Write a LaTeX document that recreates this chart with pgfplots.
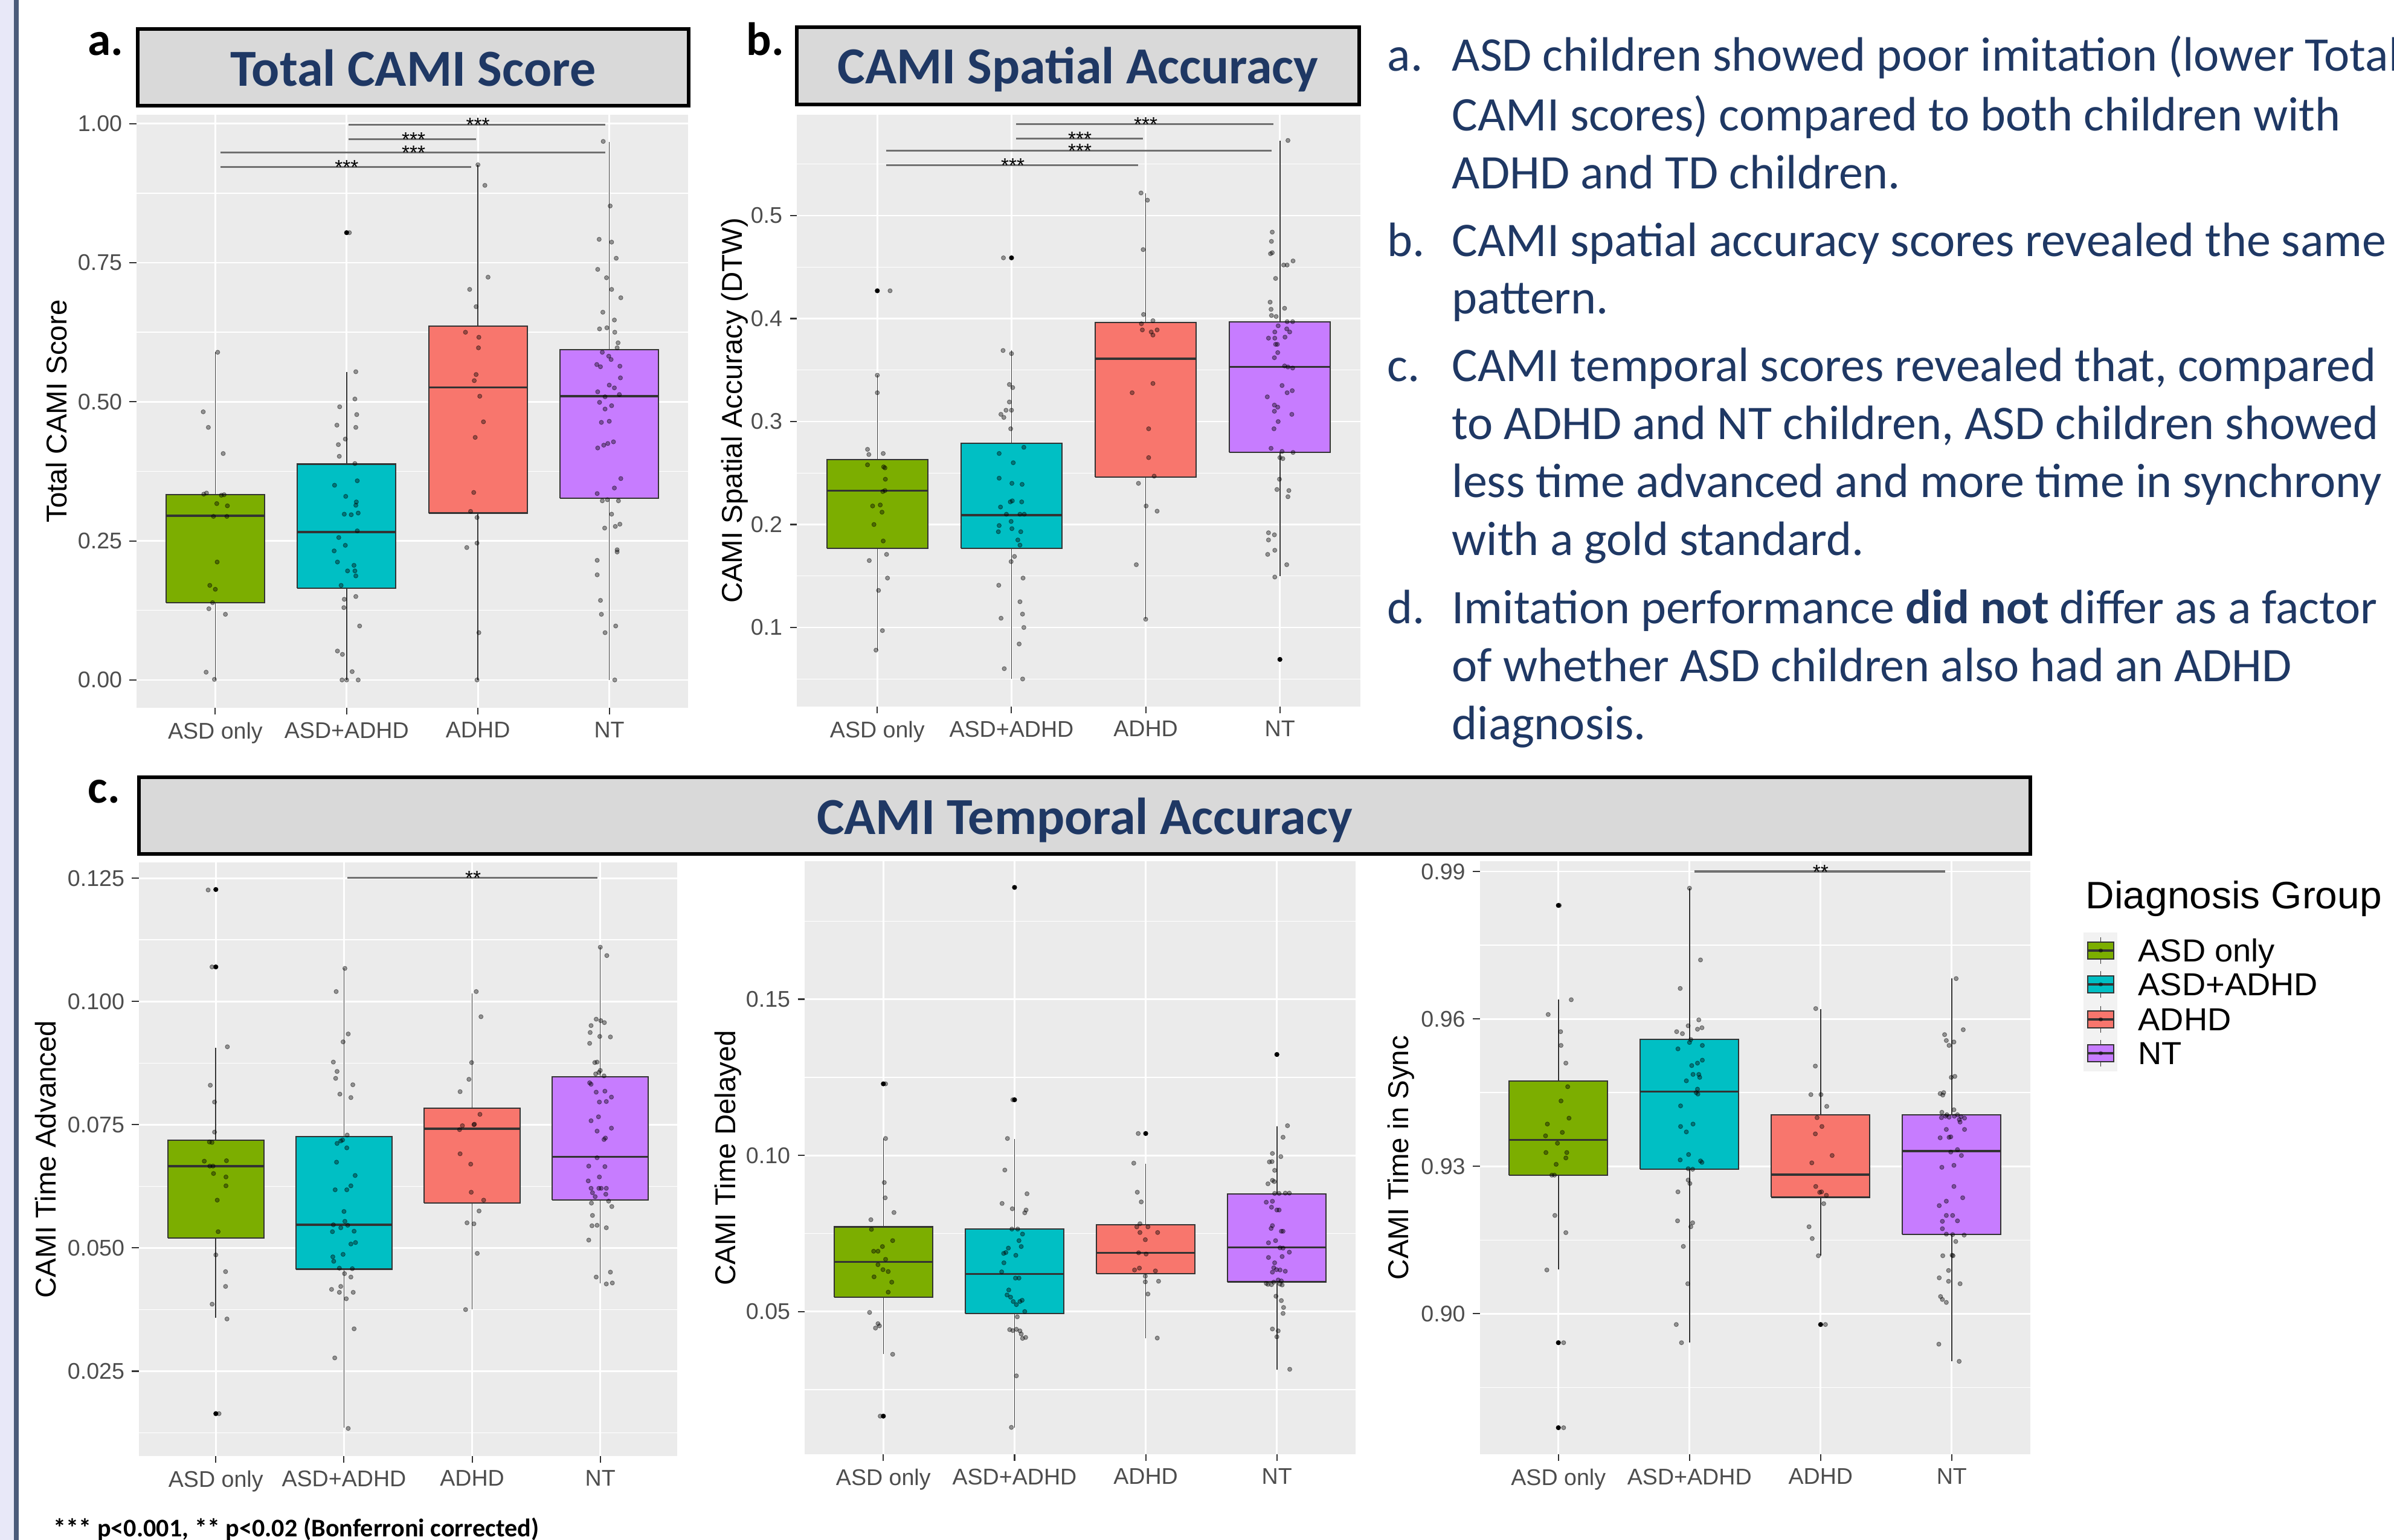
\documentclass[border=0pt]{standalone}
\usepackage{pgfplots}
\pgfplotsset{compat=1.18}
\usepackage{pgfplotstable}
\usepackage{fontspec}
\setmainfont{Liberation Sans}
\newfontfamily\carl{Carlito}
\definecolor{ggpanel}{HTML}{EBEBEB}
\definecolor{ggtext}{HTML}{4D4D4D}
\definecolor{ggtick}{HTML}{333333}
\definecolor{boxline}{HTML}{333333}
\definecolor{cASD}{HTML}{7CAE00}
\definecolor{cCOM}{HTML}{00BFC4}
\definecolor{cADHD}{HTML}{F8766D}
\definecolor{cNT}{HTML}{C77CFF}
\definecolor{navy}{HTML}{1F3864}
\definecolor{titlegray}{HTML}{D9D9D9}
\definecolor{lav}{HTML}{E8E8F8}
\definecolor{slate}{HTML}{4B5B7A}
\definecolor{keybg}{HTML}{F2F2F2}
\definecolor{sigcol}{HTML}{707070}

\pgfplotstableread{
x y
1.018 0.589
0.908 0.482
0.947 0.454
1.060 0.407
0.912 0.334
0.933 0.336
1.046 0.332
1.067 0.333
1.011 0.317
1.092 0.313
0.986 0.294
1.088 0.294
1.014 0.212
0.958 0.170
1.000 0.163
0.979 0.139
0.951 0.128
1.077 0.118
0.930 0.014
0.993 0.001
2.021 0.804
2.070 0.554
2.063 0.505
1.947 0.491
2.077 0.477
1.926 0.458
2.070 0.454
1.990 0.433
1.937 0.423
1.944 0.402
2.063 0.389
1.908 0.350
2.081 0.358
1.993 0.330
2.074 0.320
2.070 0.314
1.982 0.298
2.035 0.297
2.088 0.300
2.081 0.268
1.940 0.256
1.905 0.232
1.990 0.242
1.930 0.212
2.056 0.206
2.007 0.196
2.063 0.196
2.070 0.187
1.958 0.170
1.982 0.145
2.070 0.150
1.979 0.130
2.099 0.097
1.930 0.052
1.968 0.046
2.042 0.015
1.965 0.000
2.000 0.000
2.088 0.000
3.000 0.926
3.053 0.889
3.077 0.724
2.937 0.702
2.986 0.671
2.905 0.625
3.007 0.616
3.004 0.597
2.986 0.549
2.972 0.538
3.014 0.510
3.042 0.464
2.979 0.436
2.968 0.337
2.944 0.303
2.993 0.292
2.993 0.246
2.915 0.238
3.007 0.085
2.993 0.000
3.954 0.968
4.007 0.852
3.923 0.792
4.018 0.787
4.053 0.758
3.912 0.738
3.979 0.723
4.018 0.702
4.088 0.687
3.951 0.661
4.039 0.647
3.926 0.631
3.982 0.633
4.042 0.625
4.067 0.606
4.060 0.597
3.905 0.567
3.933 0.563
3.947 0.589
3.996 0.582
4.014 0.576
4.081 0.564
4.085 0.543
4.000 0.530
3.912 0.518
4.039 0.525
4.077 0.513
3.968 0.509
3.926 0.499
4.018 0.493
3.968 0.487
3.940 0.463
4.000 0.465
3.912 0.417
3.958 0.422
3.989 0.425
4.032 0.428
4.088 0.362
4.039 0.345
3.908 0.335
3.947 0.322
3.986 0.324
4.070 0.322
4.018 0.298
4.081 0.280
4.046 0.276
3.965 0.273
4.060 0.234
4.060 0.230
3.908 0.215
3.908 0.189
3.933 0.143
3.940 0.118
3.968 0.085
4.049 0.097
4.042 0.000
}\tabA

\pgfplotstableread{
x y
1.095 0.427
1.000 0.345
1.000 0.328
0.927 0.273
0.937 0.268
1.044 0.269
0.927 0.258
1.047 0.256
1.057 0.255
1.060 0.244
1.057 0.233
1.041 0.232
0.965 0.218
1.022 0.219
1.035 0.212
0.975 0.200
1.044 0.184
0.940 0.165
1.069 0.171
1.076 0.148
1.009 0.136
1.038 0.097
0.990 0.078
1.940 0.459
1.937 0.369
2.000 0.366
1.984 0.336
2.009 0.333
1.984 0.319
1.959 0.311
2.000 0.311
1.921 0.307
1.943 0.304
1.994 0.293
2.092 0.275
1.908 0.269
2.013 0.260
1.908 0.245
2.003 0.240
2.079 0.239
1.918 0.217
1.991 0.222
2.006 0.223
2.076 0.222
1.962 0.210
2.063 0.210
2.095 0.210
1.997 0.203
1.908 0.199
2.069 0.193
1.902 0.193
2.003 0.196
2.047 0.185
2.063 0.180
2.022 0.169
1.997 0.164
1.905 0.141
2.086 0.148
2.063 0.125
2.082 0.113
1.922 0.109
2.092 0.100
2.057 0.084
1.946 0.060
2.083 0.050
2.965 0.522
3.013 0.515
2.981 0.467
2.984 0.404
3.054 0.398
2.968 0.395
2.975 0.389
3.085 0.389
3.041 0.387
3.054 0.384
3.054 0.337
2.899 0.328
3.022 0.293
3.022 0.265
3.063 0.247
2.946 0.240
3.003 0.218
3.085 0.213
2.930 0.161
3.000 0.108
4.060 0.573
3.943 0.484
3.937 0.475
3.943 0.464
3.930 0.463
4.098 0.456
4.028 0.452
4.054 0.452
3.968 0.439
3.927 0.416
3.934 0.409
4.035 0.410
3.937 0.403
3.972 0.402
4.054 0.397
4.095 0.397
3.987 0.393
4.051 0.390
3.962 0.387
4.073 0.387
3.915 0.381
3.962 0.381
4.038 0.382
3.968 0.375
3.981 0.375
3.984 0.367
3.959 0.362
4.035 0.354
4.060 0.353
4.095 0.352
4.016 0.335
4.092 0.330
4.054 0.328
3.906 0.324
3.959 0.316
3.984 0.314
3.959 0.310
4.089 0.307
3.987 0.300
3.956 0.293
3.934 0.274
4.016 0.271
4.098 0.270
4.000 0.265
4.022 0.264
3.997 0.244
3.978 0.234
4.067 0.233
4.060 0.227
3.915 0.192
3.959 0.190
3.915 0.185
3.962 0.175
3.909 0.171
4.051 0.161
3.962 0.149
}\tabB

\pgfplotstableread{
x y
0.940 0.1226
0.970 0.1070
1.090 0.0908
0.957 0.0830
0.990 0.0796
0.990 0.0735
0.950 0.0715
0.970 0.0714
0.910 0.0676
1.083 0.0677
0.953 0.0666
0.978 0.0666
0.982 0.0651
1.079 0.0644
1.079 0.0626
1.011 0.0597
1.018 0.0533
1.000 0.0486
1.076 0.0452
1.076 0.0422
0.971 0.0386
1.087 0.0356
1.025 0.0164
2.007 0.1067
1.939 0.1020
2.033 0.0934
1.993 0.0918
1.917 0.0877
1.946 0.0858
1.935 0.0844
2.069 0.0831
1.968 0.0812
2.054 0.0805
2.025 0.0729
1.989 0.0719
1.975 0.0717
1.946 0.0712
2.022 0.0703
1.942 0.0674
2.087 0.0647
2.022 0.0618
1.931 0.0618
2.054 0.0626
2.000 0.0574
2.007 0.0554
1.917 0.0547
2.029 0.0546
1.910 0.0533
1.975 0.0541
2.079 0.0534
2.054 0.0508
2.090 0.0511
1.993 0.0487
1.913 0.0482
1.920 0.0473
1.964 0.0459
2.065 0.0458
2.004 0.0448
2.054 0.0441
1.975 0.0422
1.903 0.0416
1.964 0.0410
2.072 0.0410
2.018 0.0397
2.079 0.0336
1.928 0.0277
2.033 0.0134
3.032 0.1020
3.069 0.0969
2.996 0.0876
2.975 0.0842
2.906 0.0817
3.061 0.0771
3.018 0.0751
2.924 0.0748
3.014 0.0750
2.902 0.0740
2.906 0.0691
2.989 0.0670
2.993 0.0613
3.090 0.0597
3.054 0.0575
2.960 0.0551
3.014 0.0549
3.040 0.0489
2.949 0.0375
4.000 0.1110
4.051 0.1093
3.968 0.0964
4.004 0.0961
4.032 0.0957
3.928 0.0951
3.921 0.0937
3.996 0.0929
4.079 0.0928
3.917 0.0915
3.957 0.0876
3.975 0.0877
4.000 0.0860
3.989 0.0856
3.964 0.0853
4.029 0.0849
3.917 0.0835
3.928 0.0832
3.968 0.0816
4.036 0.0818
3.993 0.0796
4.047 0.0797
4.087 0.0806
3.986 0.0766
3.928 0.0758
3.975 0.0737
4.087 0.0743
4.040 0.0723
4.029 0.0720
3.975 0.0683
3.910 0.0666
4.036 0.0665
3.993 0.0644
3.906 0.0636
3.928 0.0621
4.007 0.0621
4.047 0.0621
3.989 0.0621
3.939 0.0612
3.960 0.0604
4.043 0.0609
3.931 0.0591
4.065 0.0595
4.090 0.0584
3.939 0.0566
3.935 0.0545
3.975 0.0546
4.047 0.0541
3.910 0.0516
4.079 0.0451
3.968 0.0441
4.047 0.0427
4.094 0.0429
}\tabC

\pgfplotstableread{
x y
1.017 0.1229
1.017 0.1054
1.007 0.0913
1.014 0.0864
1.081 0.0817
0.905 0.0794
0.909 0.0763
1.071 0.0727
0.993 0.0708
0.926 0.0693
0.959 0.0693
1.017 0.0667
0.959 0.0650
0.997 0.0634
1.037 0.0628
0.929 0.0611
1.064 0.0594
1.037 0.0562
0.895 0.0497
0.959 0.0461
0.940 0.0447
0.970 0.0454
1.071 0.0363
0.976 0.0165
1.987 0.1178
1.946 0.1054
1.926 0.0953
2.095 0.0877
1.905 0.0846
1.983 0.0829
2.088 0.0825
2.078 0.0816
1.980 0.0764
2.024 0.0764
2.061 0.0748
2.034 0.0727
2.051 0.0708
1.953 0.0703
1.917 0.0686
1.934 0.0689
2.010 0.0680
1.919 0.0656
1.902 0.0627
2.007 0.0607
2.034 0.0607
1.956 0.0569
1.943 0.0553
1.970 0.0546
2.041 0.0532
2.058 0.0536
1.990 0.0532
2.014 0.0522
2.078 0.0500
2.021 0.0483
1.963 0.0442
1.987 0.0439
2.014 0.0443
2.041 0.0438
2.051 0.0428
2.085 0.0417
2.061 0.0414
2.014 0.0294
1.976 0.0129
2.943 0.1070
2.909 0.0975
2.936 0.0882
2.966 0.0851
2.956 0.0781
2.932 0.0771
3.017 0.0771
2.956 0.0753
3.091 0.0753
2.997 0.0730
2.946 0.0688
3.003 0.0684
2.952 0.0639
2.915 0.0633
3.074 0.0630
2.997 0.0613
2.997 0.0595
3.098 0.0597
3.017 0.0556
3.088 0.0415
4.081 0.1095
4.047 0.1058
3.966 0.1006
4.030 0.0996
3.943 0.0979
3.963 0.0980
3.983 0.0952
3.966 0.0920
3.932 0.0909
3.980 0.0916
3.983 0.0878
4.017 0.0878
4.064 0.0879
4.095 0.0879
3.919 0.0850
3.966 0.0853
3.959 0.0834
4.000 0.0825
4.017 0.0825
3.966 0.0775
3.956 0.0766
4.034 0.0757
4.047 0.0757
3.990 0.0727
3.936 0.0720
4.024 0.0704
4.047 0.0703
4.095 0.0690
3.936 0.0673
3.983 0.0656
4.040 0.0676
3.976 0.0640
3.997 0.0634
3.966 0.0626
4.024 0.0633
4.064 0.0629
4.010 0.0601
3.976 0.0594
3.959 0.0586
3.919 0.0590
3.932 0.0587
4.024 0.0588
4.034 0.0598
4.040 0.0585
3.993 0.0549
4.034 0.0535
4.051 0.0513
4.047 0.0494
3.966 0.0444
4.010 0.0438
4.000 0.0419
4.098 0.0315
}\tabD

\pgfplotstableread{
x y
1.007 0.9831
1.098 0.9639
0.922 0.9609
1.017 0.9574
1.020 0.9546
1.057 0.9510
1.071 0.9462
1.020 0.9433
0.916 0.9386
1.081 0.9398
1.030 0.9369
0.902 0.9362
0.993 0.9347
0.905 0.9328
1.064 0.9328
1.057 0.9317
0.983 0.9304
0.950 0.9282
0.970 0.9282
0.973 0.9200
1.057 0.9165
0.912 0.9089
1.040 0.8941
1.040 0.8768
2.000 0.9866
2.084 0.9720
1.929 0.9662
2.071 0.9598
1.902 0.9574
1.946 0.9570
1.990 0.9586
2.061 0.9579
2.095 0.9582
2.000 0.9552
2.010 0.9558
1.912 0.9539
2.098 0.9546
2.098 0.9516
2.061 0.9510
2.017 0.9505
2.027 0.9487
2.071 0.9487
2.078 0.9481
1.976 0.9474
2.061 0.9457
2.051 0.9450
2.064 0.9447
1.932 0.9423
2.027 0.9386
1.932 0.9381
1.976 0.9370
1.993 0.9324
1.929 0.9313
2.084 0.9311
2.095 0.9308
1.990 0.9295
2.024 0.9294
1.990 0.9272
2.003 0.9265
1.912 0.9248
1.909 0.9189
2.024 0.9185
2.010 0.9177
1.953 0.9137
1.987 0.9061
1.899 0.8978
1.939 0.8941
2.963 0.9621
2.960 0.9504
2.926 0.9446
3.003 0.9446
3.047 0.9422
2.973 0.9399
3.010 0.9381
2.960 0.9366
3.088 0.9322
2.933 0.9307
2.963 0.9259
2.993 0.9247
3.007 0.9248
3.044 0.9241
3.024 0.9224
2.912 0.9177
2.936 0.9153
2.983 0.9118
3.037 0.8978
4.034 0.9682
4.088 0.9578
3.946 0.9568
3.959 0.9556
4.017 0.9553
3.980 0.9546
3.997 0.9481
4.024 0.9483
3.912 0.9448
3.939 0.9450
3.932 0.9445
4.017 0.9415
3.925 0.9410
3.963 0.9405
3.953 0.9402
4.044 0.9405
3.922 0.9399
3.980 0.9400
4.020 0.9402
4.071 0.9401
4.098 0.9398
4.058 0.9395
4.064 0.9390
4.098 0.9375
3.959 0.9375
3.912 0.9358
3.980 0.9359
3.993 0.9360
4.044 0.9334
3.993 0.9329
4.074 0.9322
3.925 0.9298
4.017 0.9302
4.017 0.9259
3.959 0.9229
4.084 0.9236
3.905 0.9220
3.959 0.9200
4.007 0.9200
3.929 0.9188
4.044 0.9189
3.929 0.9173
3.959 0.9162
4.007 0.9161
4.095 0.9160
4.031 0.9147
3.932 0.9118
4.003 0.9119
4.010 0.9118
3.976 0.9088
3.905 0.9073
3.976 0.9066
4.064 0.9061
3.915 0.9035
3.929 0.9029
3.959 0.9023
3.902 0.8938
4.057 0.8903
}\tabE

\tikzset{sig/.style={anchor=base, yshift=-1.2mm, font=\fontsize{9.5}{10}\selectfont, inner sep=0pt}}
\pgfplotsset{
  gg/.style={
    scale only axis, clip=false,
    xmin=0.4, xmax=4.6,
    axis background/.style={fill=ggpanel},
    axis line style={draw=none},
    xtick={1,2,3,4},
    xticklabels={ASD only,ASD+ADHD,ADHD,NT},
    xmajorgrids, ymajorgrids, yminorgrids,
    major grid style={draw=white, line width=0.8pt},
    minor grid style={draw=white, line width=0.4pt},
    tick align=outside, tick pos=left,
    major tick length=0.115cm, minor tick length=0pt,
    tick style={draw=ggtick, line width=0.6pt},
    ticklabel style={font=\fontsize{10.7}{12}\selectfont, text=ggtext},
    ylabel style={font=\fontsize{13.5}{15}\selectfont, anchor=base},
  },
  jit/.style={only marks, mark=*, mark size=1.0pt, mark options={draw=black, fill=black, draw opacity=0.45, fill opacity=0.38, line width=0.25pt}},
  outl/.style={only marks, mark=*, mark size=0.95pt, mark options={draw=none, fill=black}},
  sigbar/.style={draw=sigcol, line width=0.9pt, no marks},
  whisk/.style={draw=boxline, line width=0.45pt, no marks},
}
% #1 colour, #2 left, #3 centre, #4 right, #5 lower whisker, #6 lower quartile, #7 median, #8 upper quartile, #9 upper whisker
\newcommand{\ggbox}[9]{%
\addplot[whisk] coordinates {(#3,#5) (#3,#6)};
\addplot[whisk] coordinates {(#3,#8) (#3,#9)};
\addplot[fill=#1, draw=boxline, line width=0.6pt, line join=miter, no marks] coordinates {(#2,#6) (#4,#6) (#4,#8) (#2,#8) (#2,#6)};
\addplot[draw=boxline, line width=1.0pt, no marks] coordinates {(#2,#7) (#4,#7)};
}

\begin{document}
\begin{tikzpicture}
\useasboundingbox (0,0) rectangle (39.63,25.5);
\fill[lav] (0,0) rectangle (0.23,25.5);
\fill[slate] (0.23,0) rectangle (0.31,25.5);

% title boxes
\draw[line width=1.6pt, fill=titlegray] (2.28,23.75) rectangle (11.40,25.02);
\node[anchor=base, text=navy, inner sep=0pt] at (6.84,24.07) {\carl\bfseries\fontsize{24.5}{26}\selectfont Total CAMI Score};
\draw[line width=1.6pt, fill=titlegray] (13.19,23.77) rectangle (22.50,25.05);
\node[anchor=base, text=navy, inner sep=0pt] at (17.845,24.11) {\carl\bfseries\fontsize{24.5}{26}\selectfont CAMI Spatial Accuracy};
\draw[line width=1.6pt, fill=titlegray] (2.30,11.36) rectangle (33.61,12.63);
\node[anchor=base, text=navy, inner sep=0pt] at (17.955,11.68) {\carl\bfseries\fontsize{24.5}{26}\selectfont CAMI Temporal Accuracy};
\node[anchor=base west, inner sep=0pt] at (1.45,24.58) {\carl\bfseries\fontsize{22}{24}\selectfont a.};
\node[anchor=base west, inner sep=0pt] at (12.35,24.58) {\carl\bfseries\fontsize{22}{24}\selectfont b.};
\node[anchor=base west, inner sep=0pt] at (1.45,12.20) {\carl\bfseries\fontsize{22}{24}\selectfont c.};
\node[anchor=base west, inner sep=0pt] at (0.88,0.05) {\carl\bfseries\fontsize{12}{14}\selectfont *** p<0.001, ** p<0.02 (Bonferroni corrected)};

% right text
\begin{scope}[every node/.style={anchor=base west, inner sep=0pt, text=navy, font=\carl\fontsize{22.75}{27}\selectfont}]
\node at (22.96,24.32) {a.};
\node at (24.03,24.32) {ASD children showed poor imitation (lower Total};
\node at (24.03,23.33) {CAMI scores) compared to both children with};
\node at (24.03,22.37) {ADHD and TD children.};
\node at (22.96,21.25) {b.};
\node at (24.03,21.25) {CAMI spatial accuracy scores revealed the same};
\node at (24.03,20.30) {pattern.};
\node at (22.96,19.18) {c.};
\node at (24.03,19.18) {CAMI temporal scores revealed that, compared};
\node at (24.03,18.22) {to ADHD and NT children, ASD children showed};
\node at (24.03,17.26) {less time advanced and more time in synchrony};
\node at (24.03,16.30) {with a gold standard.};
\node at (22.96,15.17) {d.};
\node at (24.03,15.17) {Imitation performance \textbf{did not} differ as a factor};
\node at (24.03,14.21) {of whether ASD children also had an ADHD};
\node at (24.03,13.25) {diagnosis.};
\end{scope}

% panel a
\begin{axis}[gg, at={(2.26cm,13.78cm)}, anchor=south west, width=9.13cm, height=9.82cm,
  ymin=-0.05, ymax=1.016,
  ytick={0,0.25,0.5,0.75,1}, yticklabels={0.00,0.25,0.50,0.75,1.00},
  minor ytick={0.125,0.375,0.625,0.875},
  ylabel={Total CAMI Score}, ylabel style={at={(axis description cs:-0.126,0.5)}}]
\ggbox{cASD}{0.625}{1}{1.375}{0}{0.139}{0.295}{0.333}{0.589}
\ggbox{cCOM}{1.625}{2}{2.375}{0}{0.165}{0.266}{0.388}{0.554}
\ggbox{cADHD}{2.625}{3}{3.375}{0}{0.300}{0.526}{0.636}{0.926}
\ggbox{cNT}{3.625}{4}{4.375}{0}{0.327}{0.510}{0.594}{0.967}
\addplot[jit] table {\tabA};
\addplot[outl] coordinates {(2,0.804)};
\addplot[sigbar] coordinates {(2.014,0.998) (3.970,0.998)};
\addplot[sigbar] coordinates {(2.014,0.972) (2.986,0.972)};
\addplot[sigbar] coordinates {(1.039,0.948) (3.970,0.948)};
\addplot[sigbar] coordinates {(1.039,0.922) (2.950,0.922)};
\node[sig] at (axis cs:3.0,0.998) {***};
\node[sig] at (axis cs:2.51,0.972) {***};
\node[sig] at (axis cs:2.51,0.948) {***};
\node[sig] at (axis cs:2.0,0.922) {***};
\end{axis}

% panel b
\begin{axis}[gg, at={(13.19cm,13.80cm)}, anchor=south west, width=9.33cm, height=9.80cm,
  ymin=0.0232, ymax=0.598,
  ytick={0.1,0.2,0.3,0.4,0.5}, yticklabels={0.1,0.2,0.3,0.4,0.5},
  minor ytick={0.05,0.15,0.25,0.35,0.45,0.55},
  ylabel={CAMI Spatial Accuracy (DTW)}, ylabel style={at={(axis description cs:-0.0975,0.5)}}]
\ggbox{cASD}{0.625}{1}{1.375}{0.078}{0.177}{0.233}{0.263}{0.345}
\ggbox{cCOM}{1.625}{2}{2.375}{0.050}{0.177}{0.209}{0.279}{0.369}
\ggbox{cADHD}{2.625}{3}{3.375}{0.108}{0.246}{0.361}{0.396}{0.5215}
\ggbox{cNT}{3.625}{4}{4.375}{0.150}{0.270}{0.353}{0.397}{0.573}
\addplot[jit] table {\tabB};
\addplot[outl] coordinates {(1,0.427) (2,0.459) (4,0.069)};
\addplot[sigbar] coordinates {(2.036,0.589) (3.952,0.589)};
\addplot[sigbar] coordinates {(2.036,0.575) (2.980,0.575)};
\addplot[sigbar] coordinates {(1.066,0.563) (3.937,0.563)};
\addplot[sigbar] coordinates {(1.066,0.549) (2.942,0.549)};
\node[sig] at (axis cs:3.0,0.589) {***};
\node[sig] at (axis cs:2.51,0.575) {***};
\node[sig] at (axis cs:2.51,0.563) {***};
\node[sig] at (axis cs:2.01,0.549) {***};
\end{axis}

% panel c1
\begin{axis}[gg, at={(2.30cm,1.39cm)}, anchor=south west, width=8.91cm, height=9.83cm,
  ymin=0.0078, ymax=0.1282,
  ytick={0.025,0.05,0.075,0.1,0.125}, yticklabels={0.025,0.050,0.075,0.100,0.125},
  minor ytick={0.0125,0.0375,0.0625,0.0875,0.1125},
  ylabel={CAMI Time Advanced}, ylabel style={at={(axis description cs:-0.1538,0.5)}}]
\ggbox{cASD}{0.625}{1}{1.375}{0.0358}{0.0520}{0.0666}{0.0719}{0.0906}
\ggbox{cCOM}{1.625}{2}{2.375}{0.0136}{0.0457}{0.0547}{0.0726}{0.1068}
\ggbox{cADHD}{2.625}{3}{3.375}{0.0376}{0.0591}{0.0742}{0.0783}{0.1016}
\ggbox{cNT}{3.625}{4}{4.375}{0.0428}{0.0597}{0.0685}{0.0847}{0.1111}
\addplot[jit] table {\tabC};
\addplot[outl] coordinates {(1,0.1227) (1,0.1070) (1,0.0164)};
\addplot[sigbar] coordinates {(2.025,0.1251) (3.980,0.1251)};
\node[sig] at (axis cs:3.007,0.1251) {**};
\end{axis}

% panel c2
\begin{axis}[gg, at={(13.32cm,1.42cm)}, anchor=south west, width=9.12cm, height=9.82cm,
  ymin=0.0043, ymax=0.1942,
  ytick={0.05,0.1,0.15}, yticklabels={0.05,0.10,0.15},
  minor ytick={0.025,0.075,0.125,0.175},
  ylabel={CAMI Time Delayed}, ylabel style={at={(axis description cs:-0.1255,0.5)}}]
\ggbox{cASD}{0.625}{1}{1.375}{0.0364}{0.0546}{0.0659}{0.0771}{0.1054}
\ggbox{cCOM}{1.625}{2}{2.375}{0.0129}{0.0494}{0.0620}{0.0764}{0.1053}
\ggbox{cADHD}{2.625}{3}{3.375}{0.0415}{0.0621}{0.0688}{0.0777}{0.0973}
\ggbox{cNT}{3.625}{4}{4.375}{0.0314}{0.0595}{0.0705}{0.0877}{0.1093}
\addplot[jit] table {\tabD};
\addplot[outl] coordinates {(1,0.1229) (1,0.0165) (2,0.1858) (2,0.1178) (3,0.1070) (4,0.1323)};
\end{axis}

% panel c3
\begin{axis}[gg, at={(24.495cm,1.42cm)}, anchor=south west, width=9.115cm, height=9.82cm,
  ymin=0.8714, ymax=0.9921,
  ytick={0.90,0.93,0.96,0.99}, yticklabels={0.90,0.93,0.96,0.99},
  minor ytick={0.885,0.915,0.945,0.975},
  ylabel={CAMI Time in Sync}, ylabel style={at={(axis description cs:-0.129,0.5)}}]
\ggbox{cASD}{0.625}{1}{1.375}{0.9090}{0.9282}{0.9354}{0.9474}{0.9639}
\ggbox{cCOM}{1.625}{2}{2.375}{0.8941}{0.9294}{0.9452}{0.9558}{0.9866}
\ggbox{cADHD}{2.625}{3}{3.375}{0.9118}{0.9237}{0.9283}{0.9405}{0.9620}
\ggbox{cNT}{3.625}{4}{4.375}{0.8903}{0.9161}{0.9331}{0.9405}{0.9682}
\addplot[jit] table {\tabE};
\addplot[outl] coordinates {(1,0.9831) (1,0.8941) (1,0.8768) (3,0.8978)};
\addplot[sigbar] coordinates {(2.040,0.9900) (3.950,0.9900)};
\node[sig] at (axis cs:3.0,0.9900) {**};
\end{axis}

% legend
\node[anchor=base west, inner sep=0pt, xscale=1.04] at (34.52,10.45) {\fontsize{18}{20}\selectfont Diagnosis Group};
\fill[keybg] (34.49,7.76) rectangle (35.05,10.06);
\foreach \c/\cy/\t in {cASD/9.76/ASD only, cCOM/9.20/ASD+ADHD, cADHD/8.62/ADHD, cNT/8.06/NT}{
  \draw[boxline, line width=0.5pt] (34.775,\cy-0.22) -- (34.775,\cy+0.22);
  \draw[fill=\c, draw=boxline, line width=0.6pt] (34.56,\cy-0.14) rectangle (34.99,\cy+0.14);
  \draw[boxline, line width=1.0pt] (34.56,\cy) -- (34.99,\cy);
  \fill[black, opacity=0.45] (34.775,\cy) circle (1.0pt);
  \node[anchor=base west, inner sep=0pt, xscale=1.03] at (35.39,\cy-0.19) {\fontsize{15}{17}\selectfont \t};
}
\end{tikzpicture}
\end{document}
